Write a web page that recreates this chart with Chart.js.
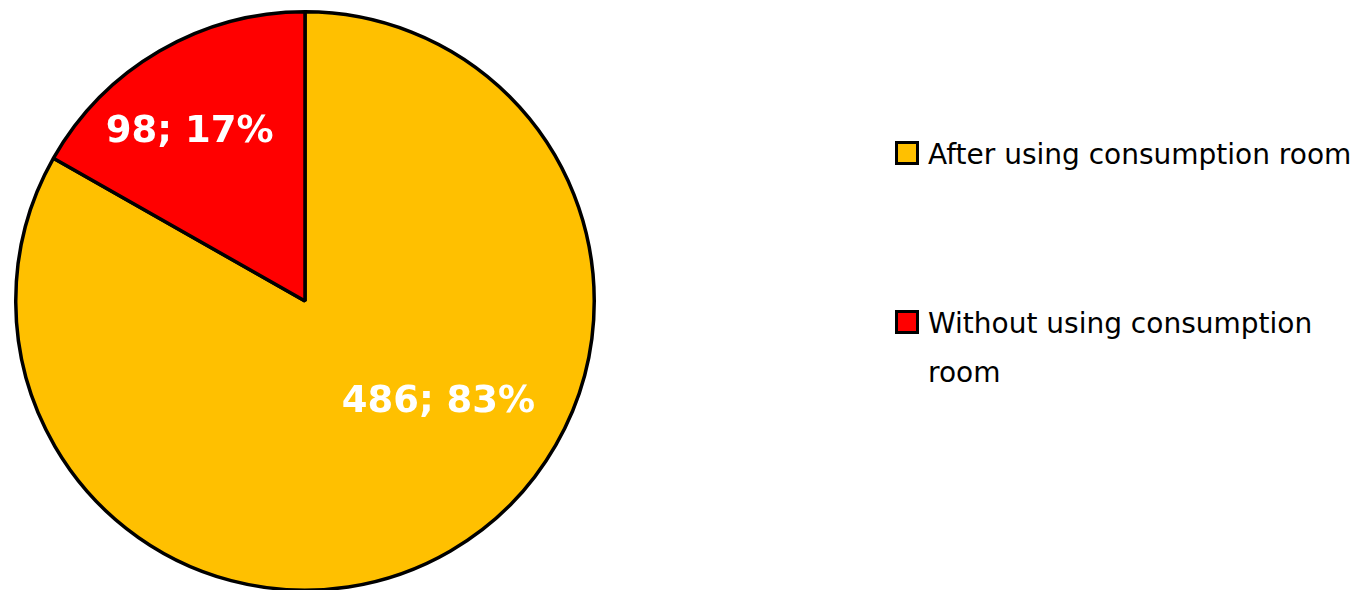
<!DOCTYPE html>
<html>
<head>
<meta charset="utf-8">
<script src="https://cdn.jsdelivr.net/npm/chart.js@4/dist/chart.umd.min.js"></script>
<style>
  html, body { margin: 0; padding: 0; background: #fff; overflow: hidden; }
  body { width: 1367px; height: 590px; position: relative; }
  #pie-wrap { position: absolute; left: 14px; top: 10px; width: 582px; height: 582px; }
  #legend { position: absolute; left: 895px; top: 130px; width: 468px;
    font-family: "DejaVu Sans", sans-serif; font-size: 28px; color: #000; }
  .legend-item { display: flex; align-items: flex-start; line-height: 49px; }
  .legend-item + .legend-item { margin-top: 120px; }
  .legend-box { flex: none; box-sizing: border-box; width: 24px; height: 24px;
    border: 3px solid #000; margin-top: 11px; margin-right: 9px; }
  .legend-text { max-width: 432px; }
</style>
</head>
<body>
<div id="pie-wrap"><canvas id="pie"></canvas></div>
<div id="legend"></div>
<script>
(function () {
  'use strict';

  var categories = ['After using consumption room', 'Without using consumption room'];
  var counts = [486, 98];
  var percents = [83, 17];
  var colors = ['#FFC000', '#FF0000'];

  // where each label sits inside its slice: [fraction along the arc, fraction of radius]
  var labelAnchors = [[0.425, 0.58], [0.43, 0.705]];

  var sliceLabels = {
    id: 'sliceLabels',
    afterDatasetsDraw: function (chart) {
      var ctx = chart.ctx;
      var meta = chart.getDatasetMeta(0);
      ctx.save();
      ctx.fillStyle = '#fff';
      ctx.font = 'bold 37px "DejaVu Sans", sans-serif';
      ctx.textAlign = 'center';
      ctx.textBaseline = 'middle';
      meta.data.forEach(function (arc, i) {
        var p = arc.getProps(['x', 'y', 'startAngle', 'endAngle', 'outerRadius'], true);
        var a = p.startAngle + (p.endAngle - p.startAngle) * labelAnchors[i][0];
        var r = p.outerRadius * labelAnchors[i][1];
        var text = counts[i] + '; ' + percents[i] + '%';
        ctx.fillText(text, p.x + Math.cos(a) * r, p.y + Math.sin(a) * r);
      });
      ctx.restore();
    },
  };

  new Chart(document.getElementById('pie'), {
    type: 'pie',
    data: {
      labels: categories,
      datasets: [{
        data: counts,
        backgroundColor: colors,
        borderColor: '#000',
        borderWidth: 3.5,
        hoverOffset: 0,
      }],
    },
    options: {
      responsive: true,
      maintainAspectRatio: false,
      animation: false,
      layout: { padding: 0 },
      plugins: {
        legend: { display: false },
        tooltip: { enabled: false },
      },
    },
    plugins: [sliceLabels],
  });

  var legend = document.getElementById('legend');
  categories.forEach(function (name, i) {
    var item = document.createElement('div');
    item.className = 'legend-item';
    var box = document.createElement('span');
    box.className = 'legend-box';
    box.style.background = colors[i];
    var text = document.createElement('span');
    text.className = 'legend-text';
    text.textContent = name;
    item.appendChild(box);
    item.appendChild(text);
    legend.appendChild(item);
  });
})();
</script>
</body>
</html>
